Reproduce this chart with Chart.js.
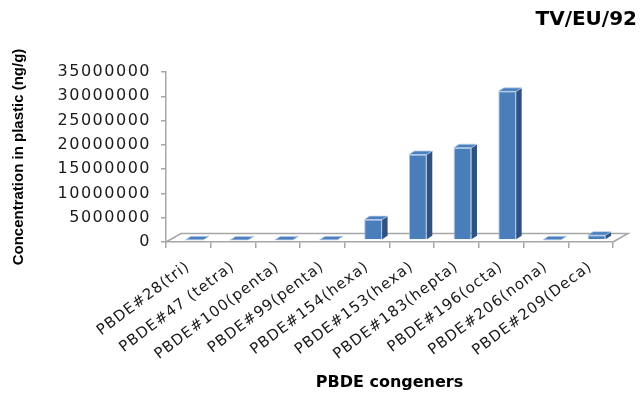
<!DOCTYPE html>
<html>
<head>
<meta charset="utf-8">
<title>PBDE congeners – TV/EU/92</title>
<script src="https://cdn.jsdelivr.net/npm/chart.js@4/dist/chart.umd.min.js"></script>
<style>
  html, body { margin: 0; padding: 0; background: #ffffff; }
  #wrap { width: 641px; height: 394px; }
</style>
</head>
<body>
<div id="wrap"><canvas id="chart" width="641" height="394"></canvas></div>
<script>
// PBDE congeners measured in the TV/EU/92 plastic sample
const congeners = [
  'PBDE#28(tri)', 'PBDE#47 (tetra)', 'PBDE#100(penta)', 'PBDE#99(penta)',
  'PBDE#154(hexa)', 'PBDE#153(hexa)', 'PBDE#183(hepta)', 'PBDE#196(octa)',
  'PBDE#206(nona)', 'PBDE#209(Deca)'
];
// concentration in plastic, ng/g
const concentrations = [
  30000, 20000, 25000, 30000,
  4200000, 17600000, 19000000, 30600000,
  40000, 1000000
];
// value-axis tick marks
const valueTicks = [0, 5000000, 10000000, 15000000, 20000000, 25000000, 30000000, 35000000];

// 3D look: floor depth, column offset inside the floor, column depth
const FLOOR_DX = 15, FLOOR_DY = -8.5;
const COL_SHIFT_X = 6, COL_SHIFT_Y = -2;
const SIDE_DX = 5.5, SIDE_DY = -3.5;

const AXIS_GREY = '#a6a6a6';

// wider tracking for the tick labels of each axis
const LABEL_SPACING = { x: '1px', y: '1.5px' };

const spacedTickLabels = {
  id: 'spacedTickLabels',
  afterLayout(chart) {
    Object.keys(LABEL_SPACING).forEach(id => {
      const scale = chart.scales[id];
      if (!scale || scale.$spaced) return;
      const drawLabels = scale.drawLabels.bind(scale);
      scale.drawLabels = area => {
        const ctx = chart.ctx;
        ctx.save();
        ctx.letterSpacing = LABEL_SPACING[id];
        drawLabels(area);
        ctx.restore();
      };
      scale.$spaced = true;
    });
  }
};

const floorAndColumns = {
  id: 'floorAndColumns',
  beforeDatasetsDraw(chart) {
    const { ctx, chartArea: a } = chart;
    const yb = chart.scales.y.getPixelForValue(0);
    // floor outline (front edge is the category axis line)
    ctx.save();
    ctx.strokeStyle = AXIS_GREY;
    ctx.lineWidth = 1.5;
    ctx.beginPath();
    ctx.moveTo(a.left, yb);
    ctx.lineTo(a.left + FLOOR_DX, yb + FLOOR_DY);
    ctx.lineTo(a.right + FLOOR_DX, yb + FLOOR_DY);
    ctx.lineTo(a.right, yb);
    ctx.stroke();
    ctx.restore();
    // columns stand in the middle of the floor depth
    ctx.save();
    ctx.translate(COL_SHIFT_X, COL_SHIFT_Y);
  },
  afterDatasetsDraw(chart) {
    const ctx = chart.ctx;
    const meta = chart.getDatasetMeta(0);
    meta.data.forEach(bar => {
      const { x, y, base, width } = bar.getProps(['x', 'y', 'base', 'width'], true);
      const l = x - width / 2, r = x + width / 2;
      // right side face
      ctx.fillStyle = '#2f5283';
      ctx.beginPath();
      ctx.moveTo(r, y);
      ctx.lineTo(r + SIDE_DX, y + SIDE_DY);
      ctx.lineTo(r + SIDE_DX, base + SIDE_DY);
      ctx.lineTo(r, base);
      ctx.closePath();
      ctx.fill();
      // top face
      ctx.fillStyle = '#4b7fbf';
      ctx.strokeStyle = 'rgba(190,210,236,0.9)';
      ctx.lineWidth = 0.8;
      ctx.beginPath();
      ctx.moveTo(l, y);
      ctx.lineTo(l + SIDE_DX, y + SIDE_DY);
      ctx.lineTo(r + SIDE_DX, y + SIDE_DY);
      ctx.lineTo(r, y);
      ctx.closePath();
      ctx.fill();
      ctx.stroke();
    });
    ctx.restore();
  }
};

new Chart(document.getElementById('chart'), {
  type: 'bar',
  data: {
    labels: congeners,
    datasets: [{
      data: concentrations,
      backgroundColor: '#4a7ebb',
      borderColor: 'rgba(170,195,228,0.9)',
      borderWidth: 1,
      barPercentage: 0.4,
      categoryPercentage: 1.0
    }]
  },
  options: {
    responsive: false,
    animation: false,
    events: [],
    layout: { padding: { left: 6, right: 4, top: 4, bottom: 2 } },
    plugins: {
      legend: { display: false },
      tooltip: { enabled: false },
      title: {
        display: true,
        text: 'TV/EU/92',
        align: 'end',
        color: '#000000',
        font: { family: 'DejaVu Sans', size: 20, weight: 'bold' },
        padding: { top: 4, bottom: 40 }
      }
    },
    scales: {
      x: {
        grid: {
          display: true, drawOnChartArea: false, drawTicks: true,
          tickLength: 6, color: AXIS_GREY, lineWidth: 1.5, offset: true
        },
        border: { display: true, color: AXIS_GREY, width: 1.5 },
        ticks: {
          autoSkip: false, minRotation: 37, maxRotation: 37, padding: 10,
          color: '#1a1a1a', font: { family: 'DejaVu Sans', size: 15 }
        },
        title: {
          display: true, text: 'PBDE congeners', color: '#000000',
          font: { family: 'DejaVu Sans', size: 16, weight: 'bold' },
          padding: { top: 4, bottom: 0 }
        },
        afterFit(scale) { scale.height = 150; scale.paddingRight = 28; }
      },
      y: {
        min: 0,
        max: 35000000,
        afterBuildTicks(scale) { scale.ticks = valueTicks.map(v => ({ value: v })); },
        grid: { drawOnChartArea: false, drawTicks: true, tickLength: 5, color: AXIS_GREY, lineWidth: 1.5 },
        border: { display: true, color: AXIS_GREY, width: 1.5 },
        ticks: {
          padding: 10, color: '#1a1a1a',
          font: { family: 'DejaVu Sans', size: 16 },
          callback: v => String(v)
        },
        title: {
          display: true, text: 'Concentration in plastic (ng/g)', color: '#000000',
          font: { family: 'Liberation Sans', size: 15, weight: 'bold' },
          padding: { top: 4, bottom: 0 }
        },
        afterFit(scale) { scale.width = 160; }
      }
    }
  },
  plugins: [spacedTickLabels, floorAndColumns]
});
</script>
</body>
</html>
